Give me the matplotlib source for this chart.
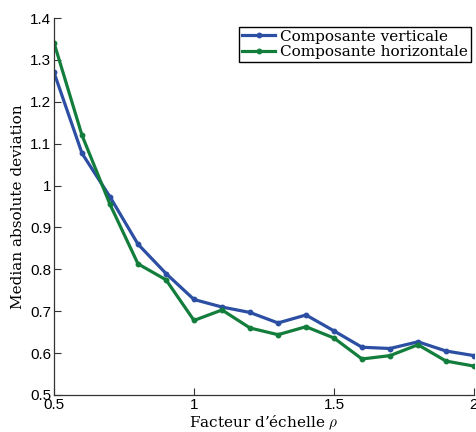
import matplotlib
matplotlib.use("Agg")
import matplotlib.pyplot as plt

rho = [0.5, 0.6, 0.7, 0.8, 0.9, 1.0, 1.1, 1.2, 1.3, 1.4, 1.5, 1.6, 1.7, 1.8, 1.9, 2.0]
vertical = [1.270, 1.077, 0.973, 0.860, 0.790, 0.728, 0.710, 0.697, 0.672, 0.691,
            0.653, 0.614, 0.611, 0.627, 0.605, 0.594]
horizontal = [1.341, 1.120, 0.955, 0.813, 0.775, 0.678, 0.703, 0.660, 0.644, 0.663,
              0.636, 0.586, 0.594, 0.620, 0.581, 0.569]
series_labels = ["Composante verticale", "Composante horizontale"]
xticks = [0.5, 1, 1.5, 2]
xtick_labels = ["0.5", "1", "1.5", "2"]
yticks = [0.5, 0.6, 0.7, 0.8, 0.9, 1.0, 1.1, 1.2, 1.3, 1.4]
ytick_labels = ["0.5", "0.6", "0.7", "0.8", "0.9", "1", "1.1", "1.2", "1.3", "1.4"]

plt.rcParams['mathtext.fontset'] = 'cm'

fig = plt.figure(figsize=(4.77, 4.32), dpi=100)
ax = fig.add_axes([54/477, 37/432, 420/477, 377/432])

ax.plot(rho, vertical, color='#2c4fa3', lw=2.3, marker='o', ms=3.2, label=series_labels[0])
ax.plot(rho, horizontal, color='#137d3c', lw=2.3, marker='o', ms=3.2, label=series_labels[1])

ax.set_xlim(0.5, 2)
ax.set_ylim(0.5, 1.4)
ax.set_xticks(xticks)
ax.set_xticklabels(xtick_labels, fontfamily='Liberation Sans', fontsize=11)
ax.set_yticks(yticks)
ax.set_yticklabels(ytick_labels, fontfamily='Liberation Sans', fontsize=11)
ax.tick_params(direction='in', length=5, width=0.8, colors='#333333', labelcolor='black', pad=2)
for s in ['top', 'right']:
    ax.spines[s].set_visible(False)
for s in ['left', 'bottom']:
    ax.spines[s].set_color('#333333')
    ax.spines[s].set_linewidth(0.9)

ax.set_xlabel("Facteur d\u2019\u00e9chelle $\\rho$", fontfamily='DejaVu Serif', fontsize=11, labelpad=1)
ax.set_ylabel("Median absolute deviation", fontfamily='DejaVu Serif', fontsize=11, labelpad=4)

leg = ax.legend(loc='upper right', bbox_to_anchor=(1.0, 0.985), prop={'family': 'DejaVu Serif', 'size': 11},
                fancybox=False, framealpha=1, edgecolor='black', handlelength=2.2,
                borderpad=0.2, labelspacing=0.1, handletextpad=0.3, borderaxespad=0.2)
leg.get_frame().set_linewidth(1.0)

fig.savefig("out.png", dpi=100)
